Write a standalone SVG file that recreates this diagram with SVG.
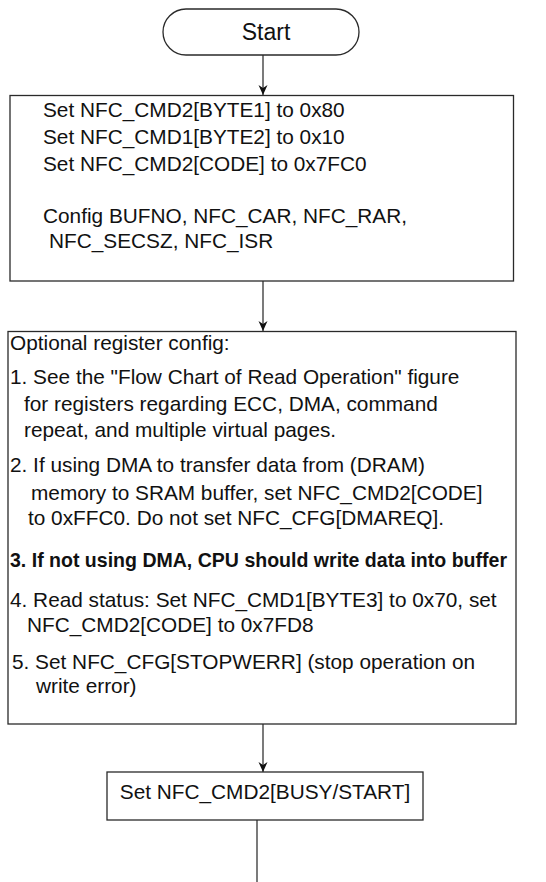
<svg xmlns="http://www.w3.org/2000/svg" width="546" height="882" viewBox="0 0 546 882">
<style>
.box{fill:#fff;stroke:#2a2a2a;stroke-width:1.3}
.t{font-family:"Liberation Sans",Arial,Helvetica,sans-serif;font-size:20.8px;fill:#111}
.b{font-weight:bold}
.c{stroke:#333;stroke-width:1.3;fill:none}
</style>
<defs>
<marker id="ah" viewBox="0 0 10 12" refX="10" refY="6" markerWidth="10" markerHeight="12" markerUnits="userSpaceOnUse" orient="auto">
<path d="M0,1.5 L10,6 L0,10.5 L3,6 Z" fill="#111"/>
</marker>
</defs>
<rect width="546" height="882" fill="#fff"/>
<g id="connectors">
<line class="c" x1="263" y1="55" x2="263" y2="95" marker-end="url(#ah)"/>
<line class="c" x1="263" y1="281" x2="263" y2="331" marker-end="url(#ah)"/>
<line class="c" x1="263" y1="724" x2="263" y2="772" marker-end="url(#ah)"/>
<line class="c" x1="257" y1="820" x2="257" y2="882"/>
</g>
<g id="start">
<rect class="box" x="163" y="9" width="196" height="46" rx="23" ry="23"/>
<text class="t" x="266" y="40" text-anchor="middle" style="font-size:23px">Start</text>
</g>
<g id="init">
<rect class="box" x="10" y="95.5" width="503.5" height="185.5"/>
<text class="t" x="43" y="117">Set NFC_CMD2[BYTE1] to 0x80</text>
<text class="t" x="43" y="143.5">Set NFC_CMD1[BYTE2] to 0x10</text>
<text class="t" x="43" y="170.5">Set NFC_CMD2[CODE] to 0x7FC0</text>
<text class="t" x="43" y="223">Config BUFNO, NFC_CAR, NFC_RAR,</text>
<text class="t" x="49" y="248">NFC_SECSZ, NFC_ISR</text>
</g>
<g id="optional">
<rect class="box" x="8" y="331.5" width="508" height="392.5"/>
<text class="t" x="10" y="350">Optional register config:</text>
<text class="t" x="10" y="384">1. See the "Flow Chart of Read Operation" figure</text>
<text class="t" x="24" y="410.5">for registers regarding ECC, DMA, command</text>
<text class="t" x="24" y="437">repeat, and multiple virtual pages.</text>
<text class="t" x="10" y="472">2. If using DMA to transfer data from (DRAM)</text>
<text class="t" x="31" y="500">memory to SRAM buffer, set NFC_CMD2[CODE]</text>
<text class="t" x="28" y="525">to 0xFFC0. Do not set NFC_CFG[DMAREQ].</text>
<text class="t b" x="10" y="567" textLength="497" lengthAdjust="spacingAndGlyphs">3. If not using DMA, CPU should write data into buffer</text>
<text class="t" x="10" y="606.5">4. Read status: Set NFC_CMD1[BYTE3] to 0x70, set</text>
<text class="t" x="27" y="632">NFC_CMD2[CODE] to 0x7FD8</text>
<text class="t" x="12" y="669">5. Set NFC_CFG[STOPWERR] (stop operation on</text>
<text class="t" x="36" y="693">write error)</text>
</g>
<g id="busy">
<rect class="box" x="107" y="772" width="316" height="48"/>
<text class="t" x="265" y="799" text-anchor="middle">Set NFC_CMD2[BUSY/START]</text>
</g>
</svg>
